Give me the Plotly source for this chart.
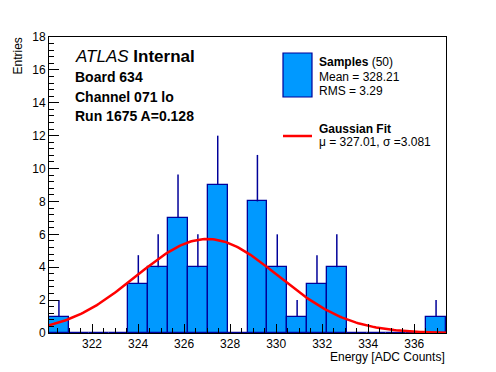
import numpy as np
import plotly.graph_objects as go

# ---- data ----
x_min = 320.13
bin_width = 0.8625
counts = [1, 0, 0, 0, 3, 4, 7, 4, 9, 0, 8, 4, 1, 3, 4, 0, 0, 0, 0, 1]
fit_mu = 327.01
fit_sigma = 3.081
fit_amp = 5.72
x_ticks = [322, 324, 326, 328, 330, 332, 334, 336]
y_ticks = [0, 2, 4, 6, 8, 10, 12, 14, 16, 18]

n_bins = len(counts)
x_max = x_min + n_bins * bin_width
centers = [x_min + (i + 0.5) * bin_width for i in range(n_bins)]
err_up = [float(np.sqrt(c)) for c in counts]

xf = np.linspace(x_min, x_max, 200)
yf = fit_amp * np.exp(-0.5 * ((xf - fit_mu) / fit_sigma) ** 2)

FILL = "#0099ff"
EDGE = "#000099"
FONT = "Liberation Sans, Arial, Helvetica, sans-serif"

fig = go.Figure()
fig.add_trace(go.Bar(
    x=centers, y=counts, width=bin_width,
    marker=dict(color=FILL, line=dict(color=EDGE, width=1.3)),
    error_y=dict(type="data", array=err_up, arrayminus=[0] * n_bins,
                 symmetric=False, color=EDGE, thickness=1.5, width=0),
    showlegend=False,
))
fig.add_trace(go.Scatter(
    x=xf, y=yf, mode="lines", line=dict(color="#ff0000", width=2.5),
    showlegend=False, cliponaxis=True,
))

# page offset (default body margin) compensation
OFF = 8
W, H = 496 - OFF, 372 - OFF
L, R, T, B = 49 - OFF, 50, 37 - OFF, 39
pw, ph = W - L - R, H - T - B


def px(x):
    return (x - 49) / pw


def py(y):
    return (333 - y) / ph


ann = []


def text(x, y, s, size=12, xanchor="left", yanchor="middle", angle=0):
    ann.append(dict(x=px(x), y=py(y), xref="paper", yref="paper", text=s,
                    showarrow=False, xanchor=xanchor, yanchor=yanchor,
                    textangle=angle,
                    font=dict(family=FONT, size=size, color="black")))


text(73, 57, "<i>ATLAS</i> <b>Internal</b>", size=17)
text(73, 77, "<b>Board 634</b>", size=14)
text(73, 97, "<b>Channel 071 lo</b>", size=14)
text(73, 116, "<b>Run 1675 A=0.128</b>", size=14)

text(317, 62, "<b>Samples</b> (50)", size=12)
text(317, 77, "Mean = 328.21", size=12)
text(317, 91, "RMS = 3.29", size=12)
text(317, 129, "<b>Gaussian Fit</b>", size=12)
text(317, 142, "μ = 327.01, σ =3.081", size=12)

text(447, 357, "Energy [ADC Counts]", size=12, xanchor="right")
text(17, 36, "Entries", size=12, xanchor="center", yanchor="top", angle=-90)

shapes = [
    dict(type="rect", xref="paper", yref="paper", x0=px(283), x1=px(312),
         y0=py(97), y1=py(53), fillcolor=FILL, line=dict(color=EDGE, width=1.2)),
    dict(type="line", xref="paper", yref="paper", x0=px(283), x1=px(312),
         y0=py(136), y1=py(136), line=dict(color="#ff0000", width=2.5)),
]

fig.update_layout(
    width=W, height=H,
    margin=dict(l=L, r=R, t=T, b=B, pad=0, autoexpand=False),
    paper_bgcolor="white", plot_bgcolor="white",
    bargap=0,
    font=dict(family=FONT, size=12, color="black"),
    annotations=ann, shapes=shapes,
    xaxis=dict(range=[x_min, x_max], tickvals=x_ticks,
               ticktext=[str(v) for v in x_ticks],
               ticks="inside", ticklen=9, tickwidth=1, tickcolor="black",
               minor=dict(dtick=0.5, tick0=322, ticks="inside", ticklen=5,
                          tickcolor="black", tickwidth=1),
               showline=True, linecolor="black", linewidth=1, mirror=True,
               showgrid=False, zeroline=False,
               tickfont=dict(size=12)),
    yaxis=dict(range=[0, 18], tickvals=y_ticks,
               ticktext=[str(v) for v in y_ticks],
               ticks="inside", ticklen=10, tickwidth=1, tickcolor="black",
               minor=dict(dtick=0.4, tick0=0, ticks="inside", ticklen=5,
                          tickcolor="black", tickwidth=1),
               showline=True, linecolor="black", linewidth=1, mirror=True,
               showgrid=False, zeroline=False,
               tickfont=dict(size=12)),
)

fig.write_html("out.html")
